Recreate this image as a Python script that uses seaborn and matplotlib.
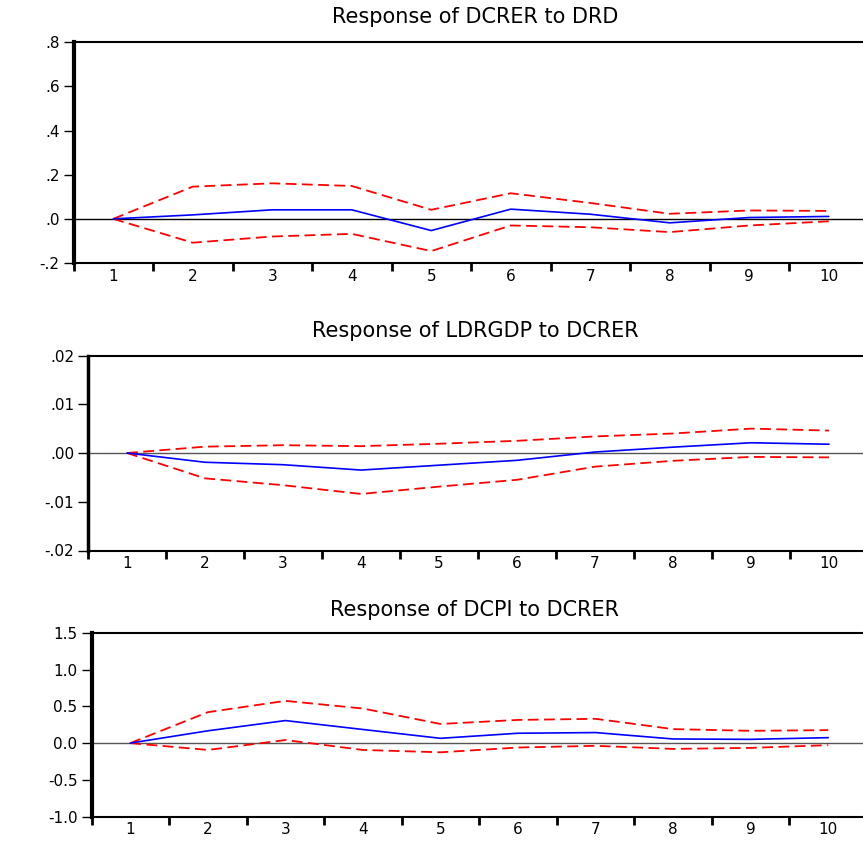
import matplotlib
matplotlib.use("Agg")
import matplotlib.pyplot as plt
import seaborn as sns
import pandas as pd
from matplotlib.ticker import FixedLocator

# ---------------- data ----------------
periods = [1, 2, 3, 4, 5, 6, 7, 8, 9, 10]

title_1 = "Response of DCRER to DRD"
resp_1 = [0.0, 0.018, 0.041, 0.041, -0.053, 0.044, 0.021, -0.018, 0.006, 0.011]
upper_1 = [0.0, 0.146, 0.161, 0.149, 0.041, 0.116, 0.072, 0.023, 0.038, 0.036]
lower_1 = [0.0, -0.108, -0.080, -0.068, -0.146, -0.030, -0.038, -0.060, -0.030, -0.011]
yticks_1 = [-0.2, 0.0, 0.2, 0.4, 0.6, 0.8]
yticklabels_1 = ["-.2", ".0", ".2", ".4", ".6", ".8"]

title_2 = "Response of LDRGDP to DCRER"
resp_2 = [0.0, -0.0019, -0.0024, -0.0035, -0.0025, -0.0015, 0.0002, 0.0012, 0.0021, 0.0018]
upper_2 = [0.0, 0.0013, 0.0016, 0.0014, 0.0019, 0.0025, 0.0034, 0.0040, 0.0050, 0.0046]
lower_2 = [0.0, -0.0052, -0.0066, -0.0084, -0.0069, -0.0055, -0.0028, -0.0016, -0.0008, -0.0009]
yticks_2 = [-0.02, -0.01, 0.0, 0.01, 0.02]
yticklabels_2 = ["-.02", "-.01", ".00", ".01", ".02"]

title_3 = "Response of DCPI to DCRER"
resp_3 = [0.0, 0.167, 0.306, 0.185, 0.065, 0.134, 0.143, 0.056, 0.051, 0.074]
upper_3 = [0.0, 0.420, 0.574, 0.470, 0.260, 0.315, 0.330, 0.190, 0.167, 0.176]
lower_3 = [0.0, -0.093, 0.042, -0.093, -0.125, -0.060, -0.037, -0.079, -0.065, -0.028]
yticks_3 = [-1.0, -0.5, 0.0, 0.5, 1.0, 1.5]
yticklabels_3 = ["-1.0", "-0.5", "0.0", "0.5", "1.0", "1.5"]

# ---------------- style ----------------
sns.set_style("white")
plt.rcParams["font.family"] = ["DejaVu Sans"]
plt.rcParams["text.color"] = "black"
plt.rcParams["xtick.color"] = "black"
plt.rcParams["ytick.color"] = "black"
plt.rcParams["xtick.labelcolor"] = "black"
plt.rcParams["ytick.labelcolor"] = "black"

W, H = 863, 841
fig = plt.figure(figsize=(W / 100, H / 100), dpi=100)

panels = [
    (title_1, resp_1, upper_1, lower_1, yticks_1, yticklabels_1, (73.5, 42.3, 868.5, 263.0), "black", 3.0, 17),
    (title_2, resp_2, upper_2, lower_2, yticks_2, yticklabels_2, (88.0, 355.5, 868.0, 550.5), "#555555", 2.5, 331),
    (title_3, resp_3, upper_3, lower_3, yticks_3, yticklabels_3, (91.5, 632.7, 867.0, 816.7), "#555555", 3.0, 610),
]

for title, resp, up, lo, yt, ytl, (l, t, r, b), zc, lsw, ty in panels:
    ax = fig.add_axes([l / W, 1 - b / H, (r - l) / W, (b - t) / H])
    df = pd.DataFrame({"period": periods, "resp": resp, "upper": up, "lower": lo})
    ax.axhline(0, color=zc, lw=1.0, zorder=1)
    sns.lineplot(data=df, x="period", y="upper", ax=ax, color="#ff0000", lw=1.3,
                 dashes=False, linestyle=(0, (6, 3)), zorder=3)
    sns.lineplot(data=df, x="period", y="lower", ax=ax, color="#ff0000", lw=1.3,
                 dashes=False, linestyle=(0, (6, 3)), zorder=3)
    sns.lineplot(data=df, x="period", y="resp", ax=ax, color="#0000ff", lw=1.2, zorder=4)

    ax.set_xlim(0.5, 10.5)
    ax.set_ylim(yt[0], yt[-1])
    ax.set_xlabel("")
    ax.set_ylabel("")

    ax.set_xticks(periods)
    ax.set_xticklabels([str(p) for p in periods])
    ax.xaxis.set_minor_locator(FixedLocator([p - 0.5 for p in periods] + [10.5]))
    ax.tick_params(axis="x", which="major", length=0, pad=4, labelsize=11)
    ax.tick_params(axis="x", which="minor", length=6, width=2, direction="out",
                   bottom=True, color="black")
    ax.set_yticks(yt)
    ax.set_yticklabels(ytl)
    ax.tick_params(axis="y", which="major", length=7, width=1, direction="out",
                   left=True, labelsize=11, pad=3, color="black")

    for s in ["top", "bottom"]:
        ax.spines[s].set_visible(True)
        ax.spines[s].set_linewidth(1.5)
        ax.spines[s].set_color("black")
    ax.spines["left"].set_linewidth(lsw)
    ax.spines["left"].set_color("black")
    ax.spines["right"].set_visible(False)

    fig.text(475 / W, 1 - ty / H, title, ha="center", va="center", fontsize=15,
             color="black")

fig.savefig("out.png", dpi=100)
